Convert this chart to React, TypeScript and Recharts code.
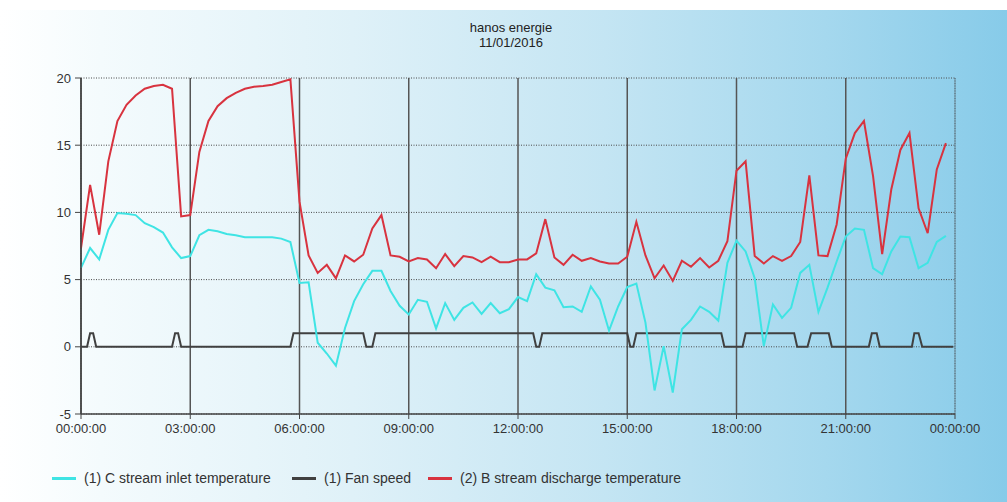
import React from 'react';
import { LineChart, Line, XAxis, YAxis, CartesianGrid, ReferenceLine } from 'recharts';

// 15-minute samples, 00:00 .. 23:45
const cStreamInlet = [
  5.87, 7.35, 6.5, 8.7,
  9.95, 9.9, 9.8, 9.2,
  8.9, 8.5, 7.4, 6.6,
  6.75, 8.3, 8.7, 8.6,
  8.4, 8.3, 8.15, 8.15,
  8.15, 8.15, 8.05, 7.8,
  4.75, 4.8, 0.3, -0.5,
  -1.4, 1.4, 3.4, 4.65,
  5.65, 5.65, 4.15, 3.05,
  2.4, 3.5, 3.35, 1.37,
  3.25, 2.0, 2.9, 3.3,
  2.45, 3.25, 2.5, 2.8,
  3.7, 3.4, 5.4, 4.4,
  4.2, 2.95, 3.0, 2.6,
  4.5, 3.5, 1.2, 3.0,
  4.45, 4.7, 1.8, -3.25,
  0.05, -3.4, 1.3, 2.0,
  3.0, 2.6, 1.95, 6.25,
  7.9, 7.1, 5.1, 0.05,
  3.15, 2.15, 2.9, 5.5,
  6.1, 2.6, 4.4, 6.35,
  8.2, 8.8, 8.7, 5.85,
  5.4, 7.1, 8.2, 8.15,
  5.85, 6.25, 7.8, 8.25,
];

const bStreamDischarge = [
  7.35, 12.05, 8.34, 13.8,
  16.8, 18.0, 18.7, 19.2,
  19.4, 19.5, 19.2, 9.7,
  9.8, 14.5, 16.8, 17.9,
  18.5, 18.9, 19.2, 19.35,
  19.4, 19.5, 19.7, 19.9,
  10.8, 6.8, 5.5, 6.1,
  5.1, 6.8, 6.35, 6.85,
  8.8, 9.8, 6.8, 6.7,
  6.35, 6.6, 6.5, 5.85,
  6.9, 6.0, 6.75, 6.65,
  6.3, 6.7, 6.3, 6.3,
  6.5, 6.5, 6.95, 9.5,
  6.65, 6.1, 6.85, 6.4,
  6.6, 6.35, 6.2, 6.2,
  6.7, 9.3, 6.8, 5.1,
  6.05, 4.9, 6.4, 5.95,
  6.6, 5.9, 6.4, 7.85,
  13.1, 13.8, 6.75, 6.2,
  6.75, 6.4, 6.75, 7.8,
  12.75, 6.8, 6.75, 9.1,
  14.0, 15.9, 16.8, 12.7,
  6.9, 11.7, 14.65, 15.9,
  10.3, 8.45, 13.2, 15.15,
];

// Fan speed breakpoints (minutes after midnight, value)
const fanMinutes = [
  0, 10, 15, 20, 25, 150, 155, 160, 165, 345, 350, 465, 470, 480, 485,
  745, 750, 755, 760, 900, 905, 910, 915, 1055, 1060, 1090, 1095, 1175, 1180,
  1197, 1203, 1232, 1237, 1298, 1303, 1311, 1316, 1369, 1373, 1380, 1386, 1437,
];
const fanValues = [
  0, 0, 1, 1, 0, 0, 1, 1, 0, 0, 1, 1, 0, 0, 1,
  1, 0, 0, 1, 1, 0, 0, 1, 1, 0, 0, 1, 1, 0,
  0, 1, 1, 0, 0, 1, 1, 0, 0, 1, 1, 0, 0,
];

const sampleStep = 15;
const xMajorTicks = [0, 180, 360, 540, 720, 900, 1080, 1260, 1440];
const xHourTicks = [0, 60, 120, 180, 240, 300, 360, 420, 480, 540, 600, 660, 720, 780, 840, 900, 960, 1020, 1080, 1140, 1200, 1260, 1320, 1380, 1440];
const yTicks = [-5, 0, 5, 10, 15, 20];

const seriesNames = {
  c: '(1) C stream inlet temperature',
  f: '(1) Fan speed',
  b: '(2) B stream discharge temperature',
};
const colors = { c: '#3fe4e4', f: '#404040', b: '#d8333f' };

const tempData = cStreamInlet.map((v, i) => ({ t: i * sampleStep, c: v, b: bStreamDischarge[i] }));
const fanData = fanMinutes.map((t, i) => ({ t, f: fanValues[i] }));

const fmtTime = (m: number) => {
  const h = Math.floor(m / 60) % 24;
  return `${String(h).padStart(2, '0')}:00:00`;
};

const FONT = '"Liberation Sans", Arial, sans-serif';
const tickStyle = { fill: '#333', fontSize: 13, fontFamily: FONT };

export default function App() {
  const legendItems: Array<{ key: 'c' | 'f' | 'b'; x: number }> = [
    { key: 'c', x: 52 },
    { key: 'f', x: 292 },
    { key: 'b', x: 428 },
  ];
  return (
    <div style={{ position: 'absolute', left: 0, top: 0, width: 1007, height: 502, background: '#fff', overflow: 'hidden' }}>
      <div
        style={{
          position: 'absolute', left: 0, top: 10, width: 1007, height: 492,
          background: 'linear-gradient(to right, #ffffff 0%, #f4fbfd 10%, #dff1f8 35%, #c4e5f3 60%, #a5d8ee 82%, #87cbe9 100%)',
        }}
      />
      <div style={{ position: 'absolute', left: 0, top: 20, width: 1022, textAlign: 'center', fontFamily: FONT, fontSize: 13, lineHeight: '15px', color: '#222' }}>
        <div>hanos energie</div>
        <div>11/01/2016</div>
      </div>
      <div style={{ position: 'absolute', left: 0, top: 0 }}>
        <LineChart width={1007} height={502} margin={{ top: 78, right: 52, bottom: 58, left: 31 }}>
          <XAxis xAxisId="hours" dataKey="t" type="number" domain={[0, 1440]} ticks={xHourTicks} hide height={0} />
          <XAxis
            xAxisId="main" dataKey="t" type="number" domain={[0, 1440]} ticks={xMajorTicks}
            tickFormatter={fmtTime} height={30} tickSize={5} tickMargin={5}
            axisLine={{ stroke: '#444', strokeWidth: 1.5 }} tickLine={{ stroke: '#444' }} tick={tickStyle}
            interval={0}
          />
          <YAxis
            yAxisId="y" type="number" domain={[-5, 20]} ticks={yTicks} width={50} tickSize={6} tickMargin={4}
            axisLine={{ stroke: '#444', strokeWidth: 1.5 }} tickLine={{ stroke: '#444' }} tick={tickStyle} interval={0}
          />
          <CartesianGrid xAxisId="hours" yAxisId="y" stroke="#4a4a4a" strokeDasharray="1 1.5" strokeWidth={1} />
          {xMajorTicks.map((m) => (
            <ReferenceLine key={m} x={m} xAxisId="main" yAxisId="y" stroke={m === 1440 ? '#6a8a9a' : '#555'} strokeWidth={m === 1440 ? 1 : 1.5} />
          ))}
          <Line data={fanData} xAxisId="main" yAxisId="y" dataKey="f" name={seriesNames.f} stroke={colors.f} strokeWidth={2} dot={false} isAnimationActive={false} type="linear" />
          <Line data={tempData} xAxisId="main" yAxisId="y" dataKey="c" name={seriesNames.c} stroke={colors.c} strokeWidth={2} dot={false} isAnimationActive={false} type="linear" />
          <Line data={tempData} xAxisId="main" yAxisId="y" dataKey="b" name={seriesNames.b} stroke={colors.b} strokeWidth={2} dot={false} isAnimationActive={false} type="linear" />
        </LineChart>
      </div>
      {legendItems.map((it) => (
        <div key={it.key} style={{ position: 'absolute', left: it.x, top: 470, height: 16, display: 'flex', alignItems: 'center', fontFamily: FONT, fontSize: 14, color: '#333', whiteSpace: 'nowrap' }}>
          <span style={{ display: 'inline-block', width: 24, height: 3, background: colors[it.key], marginRight: 8 }} />
          <span>{seriesNames[it.key]}</span>
        </div>
      ))}
    </div>
  );
}
